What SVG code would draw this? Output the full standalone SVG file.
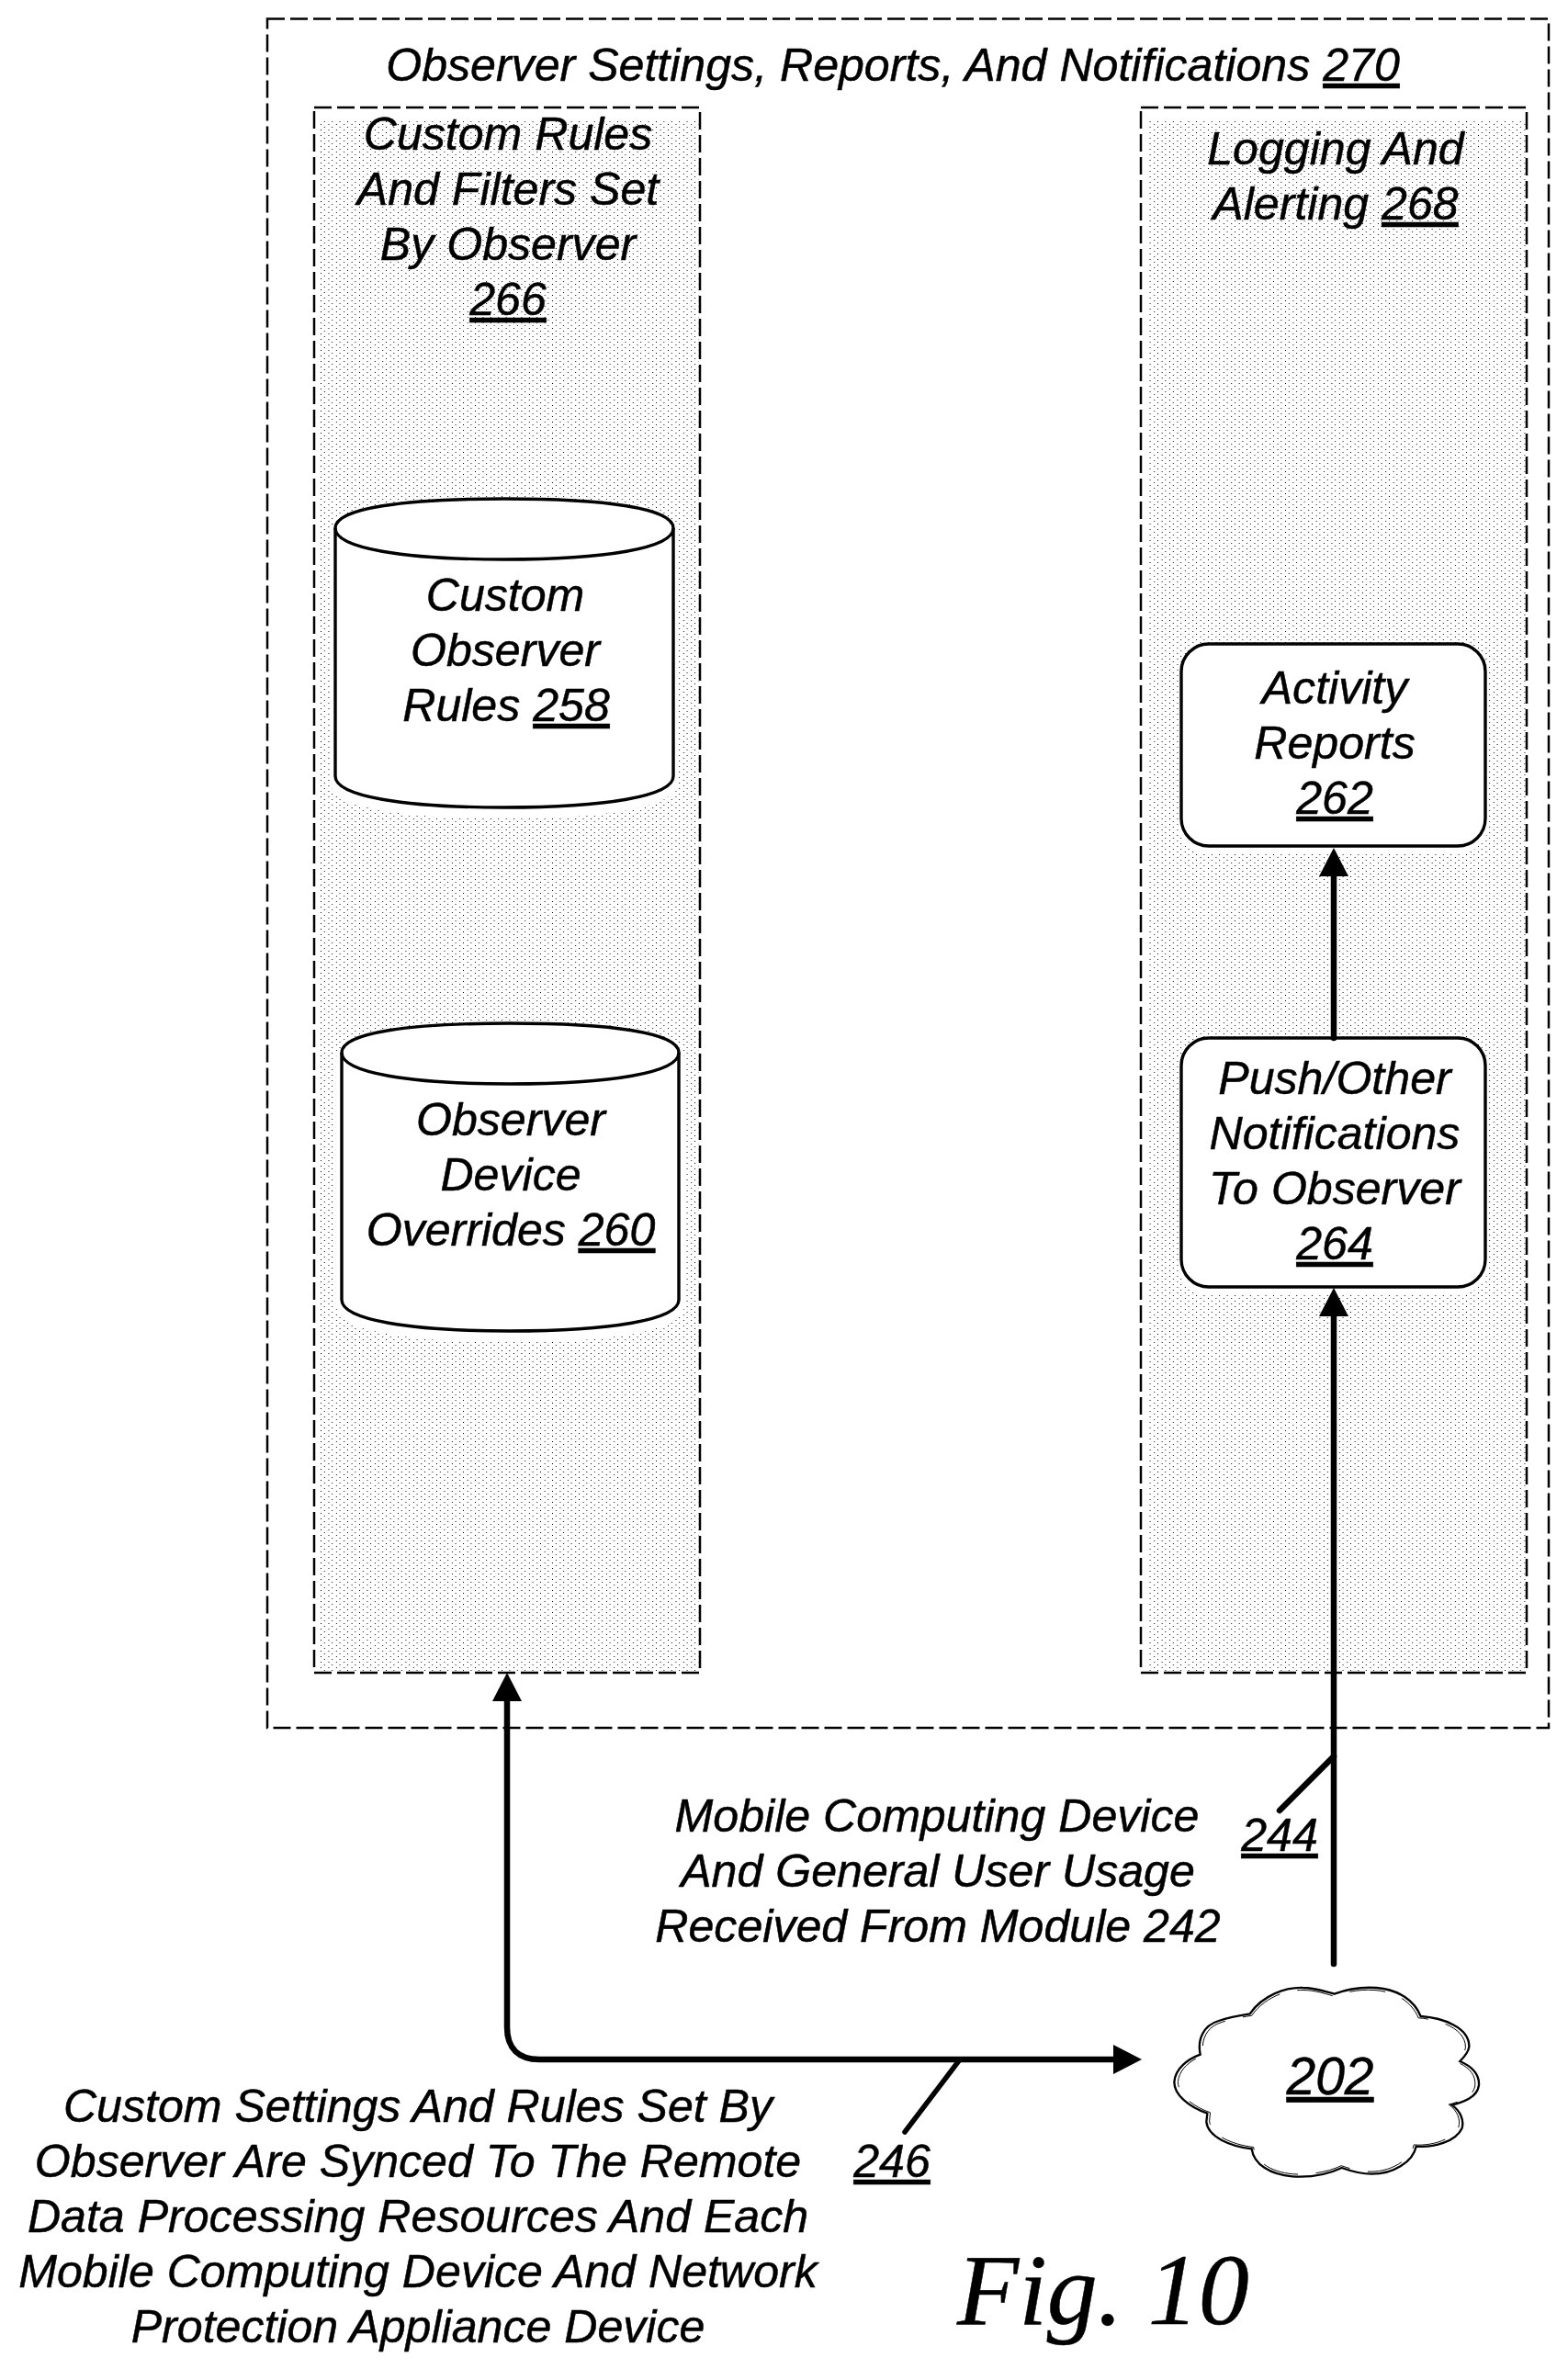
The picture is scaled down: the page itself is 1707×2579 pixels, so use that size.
<svg xmlns="http://www.w3.org/2000/svg" width="1707" height="2579" viewBox="0 0 1707 2579">
<style>
text{font-family:"Liberation Sans",Arial,sans-serif;font-style:italic;font-size:50.1px;text-anchor:middle;fill:#000;stroke:#000;stroke-width:.5}
.u{text-decoration:underline}
.dash{fill:none;stroke:#000;stroke-width:2.5;stroke-dasharray:19 6}
.node{fill:#fff;stroke:#000;stroke-width:3.4}
.halo{fill:#fff;stroke:#fff;stroke-width:12}
.conn{fill:none;stroke:#000;stroke-width:6.5;stroke-linecap:round}
.fig{font-family:"Liberation Serif","Times New Roman",serif;font-size:110px}
.big{font-size:57px}
</style>
<defs>
<pattern id="dots" width="8.4" height="6" patternUnits="userSpaceOnUse">
<rect x="0" y="0" width="1" height="1" fill="#000" shape-rendering="crispEdges"/><rect x="4.2" y="3" width="1" height="1" fill="#000" shape-rendering="crispEdges"/>
</pattern>
<marker id="arrow" markerUnits="userSpaceOnUse" markerWidth="34" markerHeight="34" refX="2" refY="16" orient="auto-start-reverse">
<path d="M0,0 L31,16 L0,32 Z" fill="#000"/>
</marker>
<path id="cyl1" d="M365,575 C365,553 440,543 549,543 C658,543 733,553 733,575 L733,845 C733,867 658,879 549,879 C440,879 365,867 365,845 Z"/>
<path id="cyl2" d="M372,1146 C372,1124 447,1114 555,1114 C664,1114 739,1124 739,1146 L739,1415 C739,1437 664,1449 555,1449 C447,1449 372,1437 372,1415 Z"/>
<path id="cloud" d="M302,157 C345,95 420,70 475,72 C515,72 550,85 578,92 C610,80 660,68 715,72 C790,78 840,115 860,165 C930,170 1020,200 1018,265 C1015,285 1000,300 988,312 C1030,330 1052,355 1050,390 C1045,430 1000,445 962,455 C990,475 1002,505 995,530 C975,575 900,595 845,590 C835,640 770,680 700,680 C665,680 630,670 602,660 C560,680 500,692 440,688 C370,682 315,650 308,598 C240,590 165,560 160,510 L163,482 C100,460 55,420 55,380 C58,335 100,305 140,290 C130,240 150,195 200,180 C235,168 270,162 302,157 Z"/>
</defs>
<rect width="1707" height="2579" fill="#fff"/>
<g id="outer-270">
<rect class="dash" x="291" y="20.5" width="1395" height="1860.5"/>
<text x="972" y="88">Observer Settings, Reports, And Notifications <tspan class="u">270</tspan></text>
</g>
<g id="box-266">
<rect x="349" y="130" width="412" height="1691" fill="url(#dots)"/>
<rect class="dash" x="342" y="117" width="420" height="1704"/>
<text x="553" y="163">Custom Rules</text>
<text x="553" y="223">And Filters Set</text>
<text x="553" y="283">By Observer</text>
<text x="553" y="343" class="u">266</text>
</g>
<g id="box-268">
<rect x="1250" y="130" width="412" height="1691" fill="url(#dots)"/>
<rect class="dash" x="1242" y="117" width="420" height="1704"/>
<text x="1454" y="179">Logging And</text>
<text x="1454" y="239">Alerting <tspan class="u">268</tspan></text>
</g>
<g id="node-258">
<use href="#cyl1" class="halo" transform="translate(0,6)"/>
<use href="#cyl1" class="node"/>
<path class="node" style="fill:none" d="M365,575 C365,597 440,609 549,609 C658,609 733,597 733,575"/>
<text x="550" y="665">Custom</text>
<text x="550" y="725">Observer</text>
<text x="551" y="785">Rules <tspan class="u">258</tspan></text>
</g>
<g id="node-260">
<use href="#cyl2" class="halo" transform="translate(0,6)"/>
<use href="#cyl2" class="node"/>
<path class="node" style="fill:none" d="M372,1146 C372,1168 447,1180 555,1180 C664,1180 739,1168 739,1146"/>
<text x="556" y="1236">Observer</text>
<text x="556" y="1296">Device</text>
<text x="556" y="1356">Overrides <tspan class="u">260</tspan></text>
</g>
<g id="node-262">
<rect class="halo" x="1286" y="703" width="331" height="224" rx="30" ry="30" style="stroke-width:6"/>
<rect class="node" x="1286" y="701" width="331" height="220" rx="30" ry="30"/>
<text x="1453" y="766">Activity</text>
<text x="1453" y="826">Reports</text>
<text x="1453" y="886" class="u">262</text>
</g>
<g id="node-264">
<rect class="halo" x="1286" y="1132" width="331" height="275" rx="30" ry="30" style="stroke-width:6"/>
<rect class="node" x="1286" y="1130" width="331" height="271" rx="30" ry="30"/>
<text x="1453" y="1191">Push/Other</text>
<text x="1453" y="1251">Notifications</text>
<text x="1453" y="1311">To Observer</text>
<text x="1453" y="1371" class="u">264</text>
</g>
<g id="node-202">
<g transform="translate(1260,2140) scale(0.33333)">
<use href="#cloud" fill="#fff" stroke="#000" stroke-width="7"/>
<use href="#cloud" fill="none" stroke="#000" stroke-width="3" stroke-dasharray="120 60" transform="translate(550,380) scale(0.975) translate(-550,-380)"/>
</g>
<text x="1448" y="2280" class="u big">202</text>
</g>
<g id="connectors">
<path class="conn" d="M1452,2138 L1452,1431" marker-end="url(#arrow)"/>
<path class="conn" d="M1452,1130 L1452,952" marker-end="url(#arrow)"/>
<path class="conn" d="M552,1850 L552,2207 C552,2230 565,2242 587,2242 L1214,2242" marker-start="url(#arrow)" marker-end="url(#arrow)"/>
<path class="conn" d="M1452,1912 L1393,1971"/>
<path class="conn" style="stroke-width:5.5" d="M1045,2242 L985,2321"/>
</g>
<g id="labels">
<text x="1020" y="1994">Mobile Computing Device</text>
<text x="1021" y="2054">And General User Usage</text>
<text x="1021" y="2114">Received From Module 242</text>
<text x="1393" y="2015" class="u">244</text>
<text x="971" y="2370" class="u">246</text>
<text x="455" y="2310">Custom Settings And Rules Set By</text>
<text x="455" y="2370">Observer Are Synced To The Remote</text>
<text x="455" y="2430">Data Processing Resources And Each</text>
<text x="455" y="2490">Mobile Computing Device And Network</text>
<text x="455" y="2550">Protection Appliance Device</text>
<text x="1201" y="2530" class="fig">Fig. 10</text>
</g>
</svg>
